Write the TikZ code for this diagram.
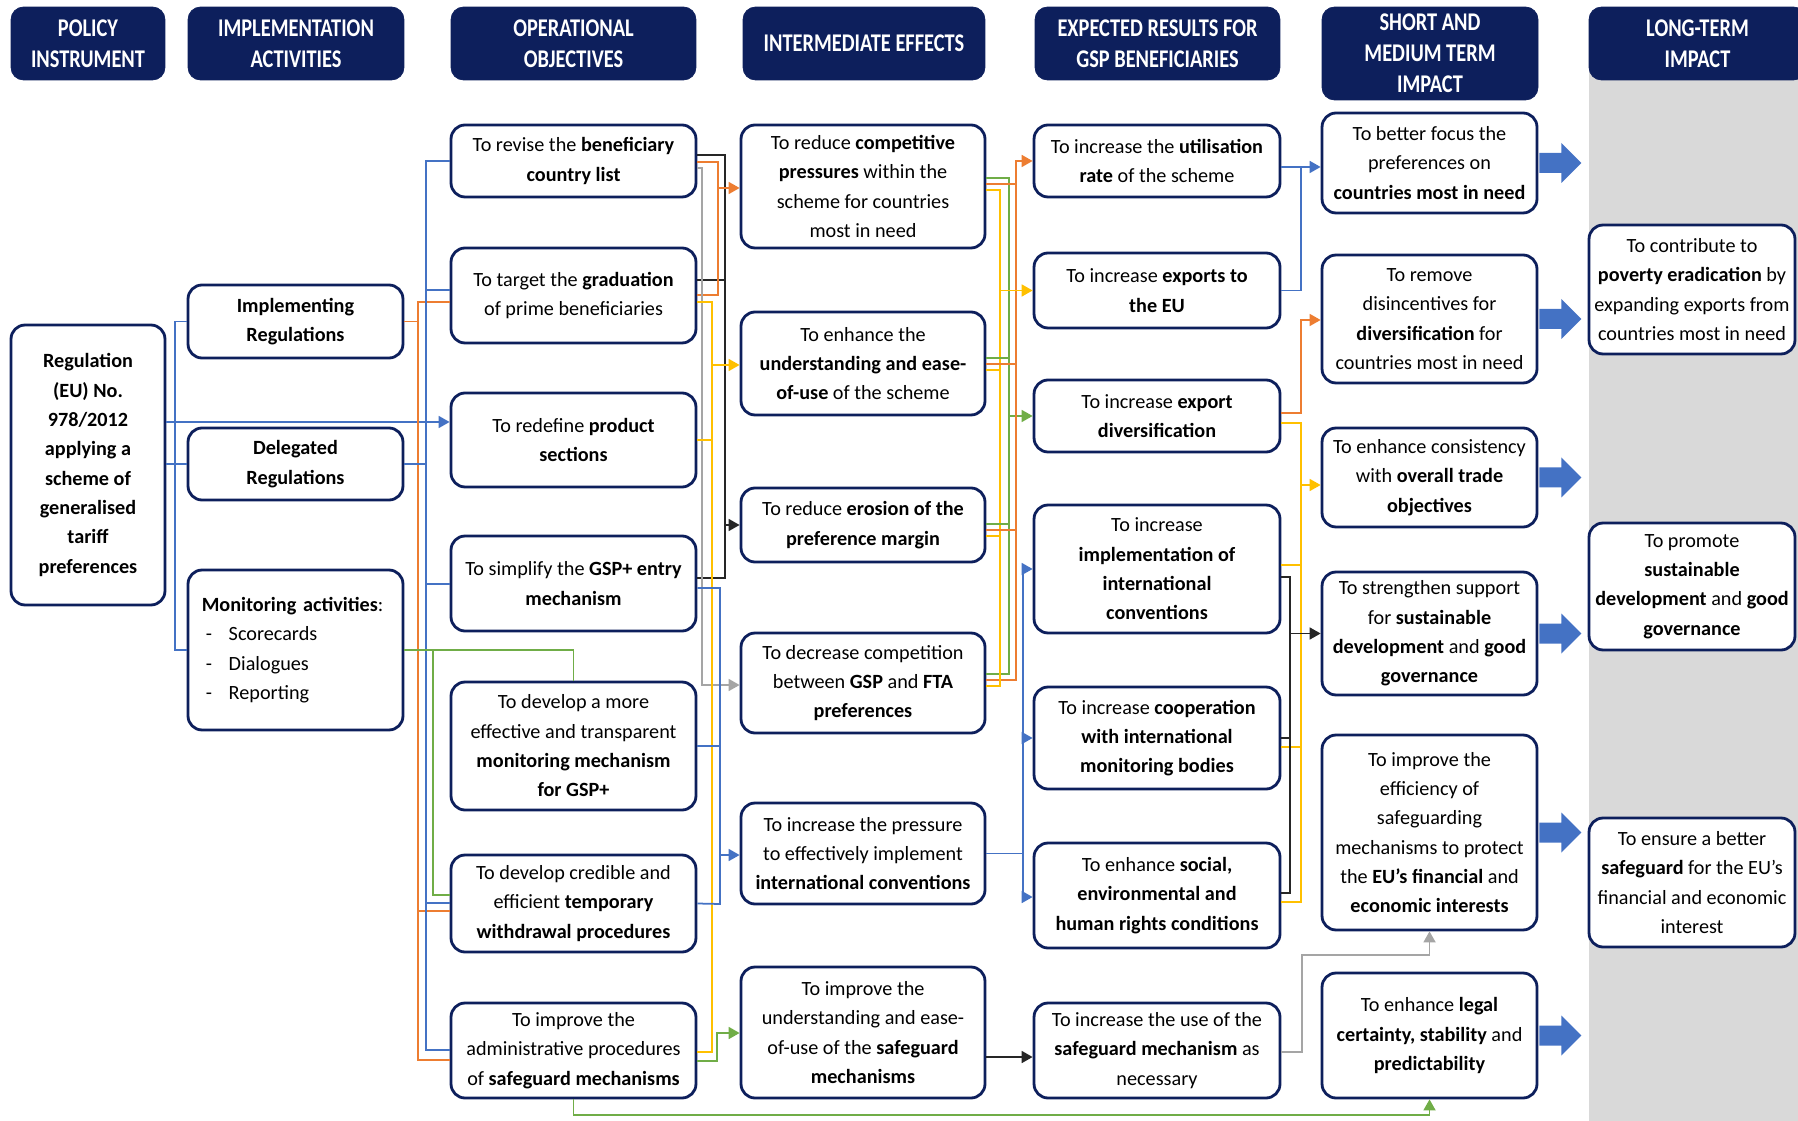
\documentclass[tikz,border=0pt]{standalone}
\usepackage{fontspec}
\setmainfont{Carlito}
\newfontfamily\headfont{Carlito}[FakeStretch=0.8]
\usetikzlibrary{arrows.meta}

\definecolor{navy}{HTML}{0D1F5C}
\definecolor{lnblue}{HTML}{4472C4}
\definecolor{lnorange}{HTML}{ED7D31}
\definecolor{lnyellow}{HTML}{FFC000}
\definecolor{lngreen}{HTML}{70AD47}
\definecolor{lngray}{HTML}{A5A5A5}
\definecolor{bggray}{HTML}{D9D9D9}

\newcommand\bxfont{\fontsize{11.5}{16.7}\selectfont}

\tikzset{
  head/.style={draw=navy, fill=navy, rounded corners=0.25cm, text=white, align=center,
    font=\headfont\bfseries\fontsize{14.5}{17.6}\selectfont, minimum height=1.46cm, inner sep=0pt},
  box/.style={draw=navy, line width=1.6pt, fill=white, rounded corners=0.28cm,
    align=center, font=\bxfont, inner sep=0pt},
  bbox/.style={box, font=\bxfont\bfseries},
  col3/.style={box, minimum width=4.9cm},
  col4/.style={box, minimum width=4.88cm},
  col5/.style={box, minimum width=4.92cm},
  col6/.style={box, minimum width=4.3cm},
  col7/.style={box, minimum width=4.12cm},
  ln/.style={line width=1pt},
  lB/.style={ln, draw=lnblue},
  lO/.style={ln, draw=lnorange},
  lY/.style={ln, draw=lnyellow},
  lG/.style={ln, draw=lngreen},
  lGr/.style={ln, draw=lngray},
  lK/.style={ln, draw=black!85},
  arr/.style={-{Triangle[length=0.22cm,width=0.24cm]}},
}

\begin{document}
\begin{tikzpicture}[x=0.02cm, y=-0.02cm]
  \useasboundingbox (0,0) rectangle (1798,1121);
  \fill[bggray] (1589,60) rectangle (1798,1121); % long-term column

  % column headers
  \node[head, minimum width=3.08cm] (hPol) at (88,43.5) {POLICY\\INSTRUMENT};
  \node[head, minimum width=4.32cm] (hImp) at (296,43.5) {IMPLEMENTATION\\ACTIVITIES};
  \node[head, minimum width=4.9cm] (hOp) at (573.5,43.5) {OPERATIONAL\\OBJECTIVES};
  \node[head, minimum width=4.84cm] (hInt) at (864,43.5) {INTERMEDIATE EFFECTS};
  \node[head, minimum width=4.9cm] (hRes) at (1157.5,43.5) {EXPECTED RESULTS FOR\\GSP BENEFICIARIES};
  \node[head, minimum width=4.32cm, minimum height=1.86cm] (hShort) at (1430,53.5) {SHORT AND\\MEDIUM TERM\\IMPACT};
  \node[head, minimum width=4.34cm] (hLong) at (1697.5,43.5) {LONG-TERM\\IMPACT};

  % policy instrument
  \node[bbox, minimum width=3.08cm, minimum height=5.6cm] (reg) at (88,465)
    {Regulation\\(EU) No.\\978/2012\\applying a\\scheme of\\generalised\\tariff\\preferences};

  % implementation activities
  \node[bbox, minimum width=4.3cm, minimum height=1.46cm] (impl) at (295.5,321.5) {Implementing\\Regulations};
  \node[bbox, minimum width=4.3cm, minimum height=1.44cm] (deleg) at (295.5,464) {Delegated\\Regulations};
  \node[box, minimum width=4.3cm, minimum height=3.2cm, align=left, text width=3.75cm] (mon) at (295.5,650)
    {\mbox{\textbf{Monitoring activities}:}\\
     \hspace*{0.08cm}\makebox[0.46cm][l]{-}Scorecards\\
     \hspace*{0.08cm}\makebox[0.46cm][l]{-}Dialogues\\
     \hspace*{0.08cm}\makebox[0.46cm][l]{-}Reporting};

  % operational objectives
  \node[col3, minimum height=1.44cm] (oRev) at (573.5,161) {To revise the \textbf{beneficiary}\\\textbf{country list}};
  \node[col3, minimum height=1.9cm] (oGrad) at (573.5,295.5) {To target the \textbf{graduation}\\of prime beneficiaries};
  \node[col3, minimum height=1.88cm] (oProd) at (573.5,440) {To redefine \textbf{product}\\\textbf{sections}};
  \node[col3, minimum height=1.9cm] (oSimp) at (573.5,583.5) {To simplify the \textbf{GSP+ entry}\\\textbf{mechanism}};
  \node[col3, minimum height=2.56cm] (oMon) at (573.5,746) {To develop a more\\effective and transparent\\\textbf{monitoring mechanism}\\\textbf{for GSP+}};
  \node[col3, minimum height=1.94cm] (oWdr) at (573.5,903.5) {To develop credible and\\efficient \textbf{temporary}\\\textbf{withdrawal procedures}};
  \node[col3, minimum height=1.9cm] (oAdm) at (573.5,1050.5) {To improve the\\administrative procedures\\of \textbf{safeguard mechanisms}};

  % intermediate effects
  \node[col4, minimum height=2.46cm] (iComp) at (863,186.5) {To reduce \textbf{competitive}\\\textbf{pressures} within the\\scheme for countries\\most in need};
  \node[col4, minimum height=2.06cm] (iUnd) at (863,363.5) {To enhance the\\\textbf{understanding and ease-}\\\textbf{of-use} of the scheme};
  \node[col4, minimum height=1.48cm] (iEro) at (863,525) {To reduce \textbf{erosion of the}\\\textbf{preference margin}};
  \node[col4, minimum height=2cm] (iFta) at (863,683) {To decrease competition\\between \textbf{GSP} and \textbf{FTA}\\\textbf{preferences}};
  \node[col4, minimum height=2.02cm] (iPress) at (863,853.5) {To increase the pressure\\to effectively implement\\\textbf{international conventions}};
  \node[col4, minimum height=2.62cm] (iSafe) at (863,1032.5) {To improve the\\understanding and ease-\\of-use of the \textbf{safeguard}\\\textbf{mechanisms}};

  % expected results
  \node[col5, minimum height=1.44cm] (rUtil) at (1157,161) {To increase the \textbf{utilisation}\\\textbf{rate} of the scheme};
  \node[col5, minimum height=1.5cm] (rExp) at (1157,290.5) {To increase \textbf{exports to}\\\textbf{the EU}};
  \node[col5, minimum height=1.44cm] (rDiv) at (1157,416) {To increase \textbf{export}\\\textbf{diversification}};
  \node[col5, minimum height=2.56cm] (rConv) at (1157,569) {To increase\\\textbf{implementation of}\\\textbf{international}\\\textbf{conventions}};
  \node[col5, minimum height=2.04cm] (rCoop) at (1157,738) {To increase \textbf{cooperation}\\\textbf{with international}\\\textbf{monitoring bodies}};
  \node[col5, minimum height=2.1cm] (rSoc) at (1157,895.5) {To enhance \textbf{social,}\\\textbf{environmental and}\\\textbf{human rights conditions}};
  \node[col5, minimum height=1.9cm] (rUse) at (1157,1050.5) {To increase the use of the\\\textbf{safeguard mechanism} as\\necessary};

  % short and medium term impact
  \node[col6, minimum height=2cm] (sFocus) at (1429.5,163) {To better focus the\\preferences on\\\textbf{countries most in need}};
  \node[col6, minimum height=2.56cm] (sDisinc) at (1429.5,319) {To remove\\disincentives for\\\textbf{diversification} for\\countries most in need};
  \node[col6, minimum height=1.98cm] (sCons) at (1429.5,477.5) {To enhance consistency\\with \textbf{overall trade}\\\textbf{objectives}};
  \node[col6, minimum height=2.46cm] (sSust) at (1429.5,633.5) {To strengthen support\\for \textbf{sustainable}\\\textbf{development} and \textbf{good}\\\textbf{governance}};
  \node[col6, minimum height=3.9cm] (sEff) at (1429.5,832.5) {To improve the\\efficiency of\\safeguarding\\mechanisms to protect\\the \textbf{EU’s financial} and\\\textbf{economic interests}};
  \node[col6, minimum height=2.5cm] (sLegal) at (1429.5,1035.5) {To enhance \textbf{legal}\\\textbf{certainty, stability} and\\\textbf{predictability}};

  % long-term impact
  \node[col7, minimum height=2.58cm] (lPov) at (1692,289.5) {To contribute to\\\textbf{poverty eradication} by\\expanding exports from\\countries most in need};
  \node[col7, minimum height=2.54cm] (lSust) at (1692,586.5) {To promote\\\textbf{sustainable}\\\textbf{development} and \textbf{good}\\\textbf{governance}};
  \node[col7, minimum height=2.58cm] (lSafe) at (1692,882.5) {To ensure a better\\\textbf{safeguard} for the EU’s\\financial and economic\\interest};

  % policy instrument -> activities
  \draw[lB] (impl.west) -| (175,650) -- (mon.west);
  \draw[lB] (reg.east |- deleg.west) -- (deleg.west);
  \draw[lB, arr] (reg.east |- 0,422) -- (oProd.west |- 0,422);

  % activities -> operational objectives
  \draw[lO] (impl.east) -- (418,321.5);
  \draw[lO] (oGrad.west |- 0,302) -| (418,1060) -- (oAdm.west |- 0,1060);
  \draw[lO] (418,911) -- (oWdr.west |- 0,911);
  \draw[lB] (deleg.east) -- (426,464);
  \draw[lB] (oRev.west) -| (426,1050) -- (oAdm.west |- 0,1050);
  \foreach \n/\y in {oGrad/290, oSimp/584, oWdr/903}
    \draw[lB] (426,\y) -- (\n.west |- 0,\y);
  \draw[lG] (mon.east) -| (oMon.north);
  \draw[lG] (433,650) |- (oWdr.west |- 0,895);

  % operational objectives -> intermediate effects
  \draw[lK] (oRev.east |- 0,155) -| (725,578) -- (oSimp.east |- 0,578);
  \draw[lK] (oGrad.east |- 0,280) -- (725,280);
  \draw[lK, arr] (725,525) -- (iEro.west);
  \draw[lO] (oRev.east |- 0,162) -| (718,295) -- (oGrad.east |- 0,295);
  \draw[lO, arr] (718,188) -- (iComp.west |- 0,188);
  \draw[lGr, arr] (oRev.east |- 0,168) -| (702,685) -- (iFta.west |- 0,685);
  \draw[lY] (oGrad.east |- 0,302) -| (712,1052) -- (oAdm.east |- 0,1052);
  \draw[lY] (oProd.east) -- (712,440);
  \draw[lY, arr] (712,365) -- (iUnd.west |- 0,365);
  \draw[lB] (oSimp.east |- 0,588) -| (720,904) -- (oWdr.east);
  \draw[lB] (oMon.east) -- (720,746);
  \draw[lB, arr] (720,855) -- (iPress.west |- 0,855);
  \draw[lG, arr] (oAdm.east |- 0,1061) -| (717,1033) -- (iSafe.west |- 0,1033);

  % intermediate effects -> expected results
  \draw[lG] (iComp.east |- 0,178) -| (1009,674) -- (iFta.east |- 0,674);
  \draw[lG, arr] (1009,416) -- (rDiv.west);
  \draw[lO, arr] (iFta.east |- 0,680) -| (1016,161) -- (rUtil.west);
  \draw[lY] (iComp.east |- 0,190) -| (1000,686) -- (iFta.east |- 0,686);
  \draw[lY, arr] (1000,290.5) -- (rExp.west);
  \foreach \n/\y in {iComp/184, iUnd/364, iEro/530}
    \draw[lO] (\n.east |- 0,\y) -- (1016,\y);
  \foreach \n/\y in {iUnd/358, iEro/524}
    \draw[lG] (\n.east |- 0,\y) -- (1009,\y);
  \foreach \n/\y in {iUnd/370, iEro/536}
    \draw[lY] (\n.east |- 0,\y) -- (1000,\y);
  \draw[lB, arr] (iPress.east) -| (1023,569) -- (rConv.west);
  \draw[lB, arr] (1023,738) -- (rCoop.west);
  \draw[lB, arr] (1023,853.5) |- (rSoc.west |- 0,897);
  \draw[lK, arr] (iSafe.east |- 0,1057) -- (rUse.west |- 0,1057);

  % expected results -> short and medium term impact
  \draw[lB] (rUtil.east |- 0,167) -- (1301,167);
  \draw[lB, arr] (rExp.east) -| (1301,167) -- (sFocus.west |- 0,167);
  \draw[lO, arr] (rDiv.east |- 0,413) -| (1301,320) -- (sDisinc.west |- 0,320);
  \draw[lY] (rDiv.east |- 0,423) -| (1301,902) -- (rSoc.east |- 0,902);
  \draw[lY, arr] (1301,485) -- (sCons.west |- 0,485);
  \draw[lY] (rConv.east |- 0,565) -- (1301,565);
  \draw[lY] (rCoop.east |- 0,747) -- (1301,747);
  \draw[lK] (rConv.east |- 0,577) -| (1290,893) -- (rSoc.east |- 0,893);
  \draw[lK] (rCoop.east) -- (1290,738);
  \draw[lK, arr] (1290,633.5) -- (sSust.west);
  \draw[lGr, arr] (rUse.east |- 0,1052) -| (1302,955) -| (sEff.south);
  \draw[lG, arr] (oAdm.south) |- (sLegal.south |- 0,1115) -- (sLegal.south);

  % block arrows to long-term impact
  \foreach \n in {sFocus,sDisinc,sCons,sSust,sEff,sLegal}
    \fill[lnblue] (\n.east) ++(1,-10) -- ++(22,0) -- ++(0,-10) -- ++(20,20)
      -- ++(-20,20) -- ++(0,-10) -- ++(-22,0) -- cycle;
\end{tikzpicture}
\end{document}
